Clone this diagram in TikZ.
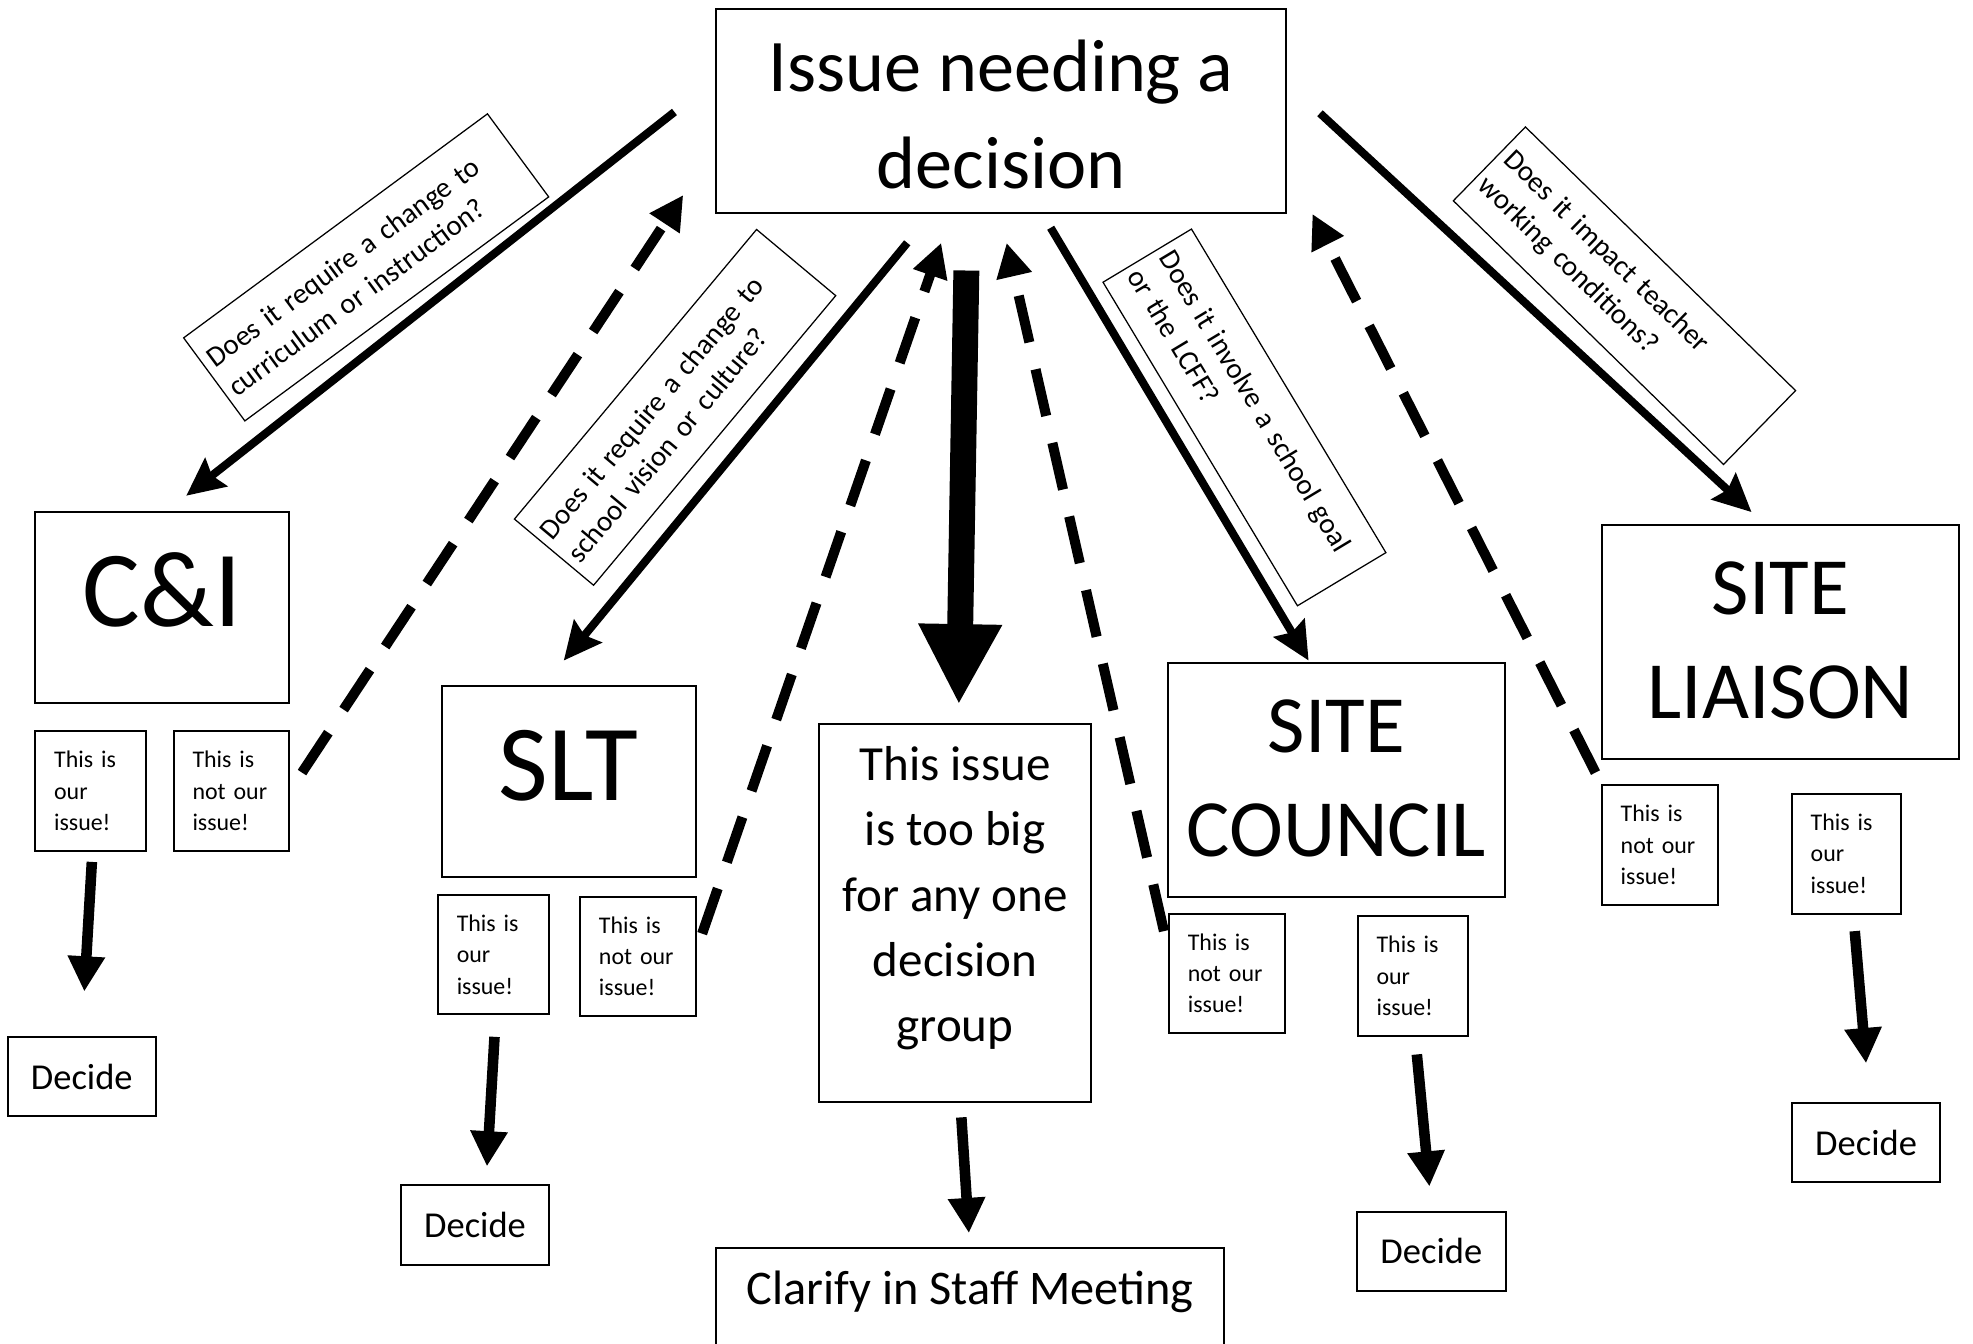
\documentclass[tikz,border=0pt]{standalone}
\usepackage{fontspec}
\setmainfont{Carlito}
\usetikzlibrary{arrows.meta}
\begin{document}
\begin{tikzpicture}[x=0.5pt,y=-0.5pt,
  box/.style={draw, line width=0.8pt, inner sep=0pt},
  smallbox/.style={box, font=\fontsize{9.5}{12.5}\selectfont, align=left, inner xsep=7.5pt, minimum height=47.5pt},
  decidebox/.style={box, font=\fontsize{14.5}{18}\selectfont, minimum width=59pt, minimum height=31.5pt},
  question/.style={draw, line width=0.5pt, font=\fontsize{11.5}{14.5}\selectfont, align=left, text width=144pt, inner xsep=3pt, inner ysep=0pt, minimum height=41pt},
  solidarrow/.style={line width=3.2pt, -{Stealth[length=15pt,width=14pt,inset=2pt]}},
  bigarrow/.style={line width=10.3pt, -{Triangle[length=32pt,width=31pt]}},
  dasharrow/.style={line width=4pt, dash pattern=on 19pt off 11pt, -{Triangle[length=13.5pt,width=13.5pt]}},
  decarrow/.style={line width=4.2pt, -{Triangle[length=14pt,width=14pt]}},
]
\useasboundingbox (0,0) rectangle (1568,1068);

% main boxes
\node[box, minimum width=226.5pt, text height=33pt, text depth=48pt, font=\fontsize{29.5}{38.5}\selectfont] (top) at (795.5,88)
  {\begin{tabular}[t]{@{}c@{}}Issue needing a\\decision\end{tabular}};
\node[box, minimum width=101pt, text height=45.5pt, text depth=30.5pt, font=\fontsize{43}{50}\selectfont] (ci) at (129,483) {C\&I};
\node[box, minimum width=101pt, text height=45.5pt, text depth=30.5pt, font=\fontsize{43}{50}\selectfont] (slt) at (452,621) {SLT};
\node[box, minimum width=108pt, text height=22.5pt, text depth=128pt, font=\fontsize{19.5}{26}\selectfont] (big) at (759,725.5)
  {\begin{tabular}[t]{@{}c@{}}This issue\\is too big\\for any one\\decision\\group\end{tabular}};
\node[box, minimum width=134pt, text height=35.5pt, text depth=57.5pt, font=\fontsize{32.3}{41.5}\selectfont] (sc) at (1062,620)
  {\begin{tabular}[t]{@{}c@{}}SITE\\COUNCIL\end{tabular}};
\node[box, minimum width=142pt, text height=35.5pt, text depth=57.5pt, font=\fontsize{32.3}{41.5}\selectfont] (sl) at (1415,510)
  {\begin{tabular}[t]{@{}c@{}}SITE\\LIAISON\end{tabular}};
\node[box, minimum width=202pt, text height=22.5pt, text depth=21.5pt, font=\fontsize{19.2}{26}\selectfont] (clar) at (771,1036) {Clarify in Staff Meeting};

% small boxes
\node[smallbox, text width=29pt] (ciour) at (72,628.5) {This is\\our\\issue!};
\node[smallbox, text width=31pt] (cinot) at (184,628.5) {This is\\not our\\issue!};
\node[smallbox, text width=29pt] (sltour) at (392,758.5) {This is\\our\\issue!};
\node[smallbox, text width=31pt] (sltnot) at (507,760) {This is\\not our\\issue!};
\node[smallbox, text width=31pt] (scnot) at (975,773.5) {This is\\not our\\issue!};
\node[smallbox, text width=29pt] (scour) at (1123,775.5) {This is\\our\\issue!};
\node[smallbox, text width=31pt] (slnot) at (1319,671.5) {This is\\not our\\issue!};
\node[smallbox, text width=28.5pt] (slour) at (1467.5,678.5) {This is\\our\\issue!};

% decide boxes
\node[decidebox] (d1) at (65,855.5) {Decide};
\node[decidebox] (d2) at (377.5,973.5) {Decide};
\node[decidebox] (d3) at (1137.5,994.5) {Decide};
\node[decidebox] (d4) at (1483,908) {Decide};

% question boxes
\node[question, rotate=36.4] (q1) at (291,212.5) {Does it require a change to\\curriculum or instruction?};
\node[question, rotate=50.1] (q2) at (536.5,323.75) {Does it require a change to\\school vision or culture?};
\node[question, rotate=-59] (q3) at (989,331.75) {Does it involve a school goal\\or the LCFF?};
\node[question, rotate=-44.3] (q4) at (1291,235) {Does it impact teacher\\working conditions?};

% connector end points
\coordinate (a1s) at (536,89);   \coordinate (a1e) at (148,394);
\coordinate (a2s) at (721,193);  \coordinate (a2e) at (448,525);
\coordinate (a3s) at (768,215);  \coordinate (a3e) at (762,560);
\coordinate (a4s) at (835,181);  \coordinate (a4e) at (1040,525);
\coordinate (a5s) at (1049,90);  \coordinate (a5e) at (1392,407);
\coordinate (b1s) at (240,614);  \coordinate (b1e) at (543,155);
\coordinate (b2s) at (558,742);  \coordinate (b2e) at (748,193);
\coordinate (b3s) at (925,740);  \coordinate (b3e) at (800,193);
\coordinate (b4s) at (1268,614); \coordinate (b4e) at (1043,170);
\coordinate (e1s) at (73,685);   \coordinate (e1e) at (67,788);
\coordinate (e2s) at (393,824);  \coordinate (e2e) at (387,927);
\coordinate (e3s) at (764,888);  \coordinate (e3e) at (770,980);
\coordinate (e4s) at (1126,838); \coordinate (e4e) at (1136,943);
\coordinate (e5s) at (1474,740); \coordinate (e5e) at (1483,845);

\draw[solidarrow] (a1s) -- (a1e);
\draw[solidarrow] (a2s) -- (a2e);
\draw[bigarrow] (a3s) -- (a3e);
\draw[solidarrow] (a4s) -- (a4e);
\draw[solidarrow] (a5s) -- (a5e);
\draw[dasharrow] (b1s) -- (b1e);
\draw[dasharrow] (b2s) -- (b2e);
\draw[dasharrow] (b3s) -- (b3e);
\draw[dasharrow] (b4s) -- (b4e);
\draw[decarrow] (e1s) -- (e1e);
\draw[decarrow] (e2s) -- (e2e);
\draw[decarrow] (e3s) -- (e3e);
\draw[decarrow] (e4s) -- (e4e);
\draw[decarrow] (e5s) -- (e5e);
\end{tikzpicture}
\end{document}
